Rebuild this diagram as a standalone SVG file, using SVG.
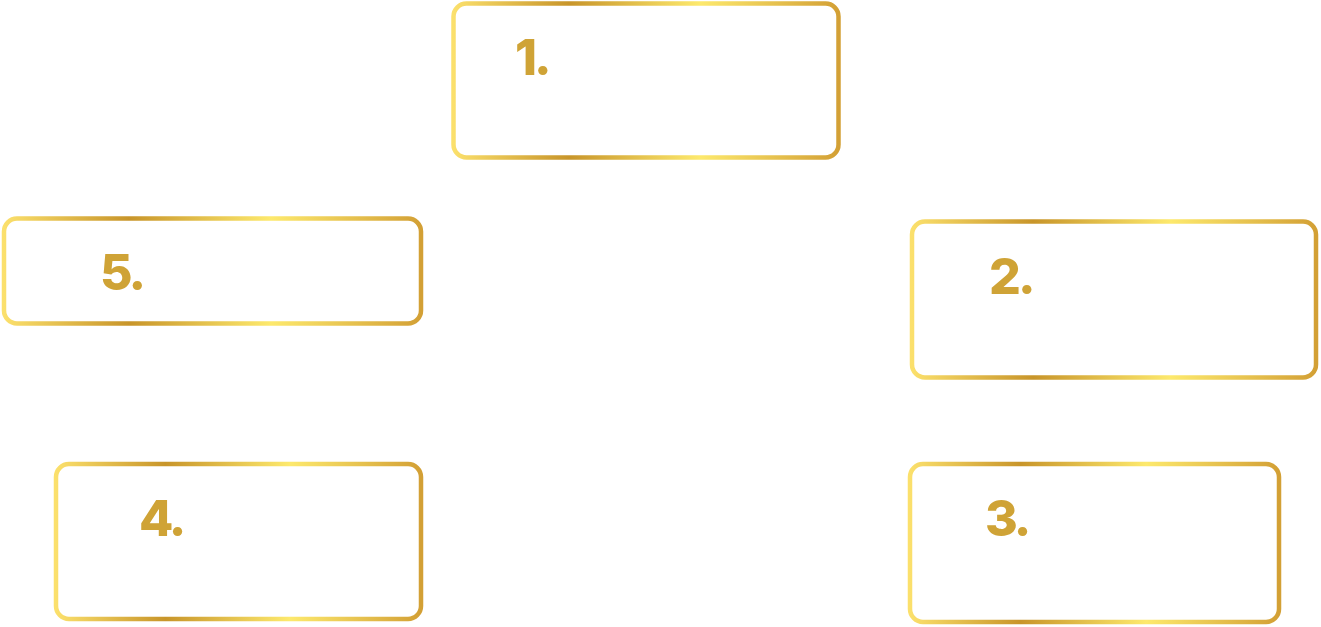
<svg xmlns="http://www.w3.org/2000/svg" width="1321" height="627" viewBox="0 0 1321 627">
<defs>
<linearGradient id="gold" x1="0" y1="0" x2="1" y2="0">
<stop offset="0" stop-color="#fbe06c"/>
<stop offset="0.3" stop-color="#c8952a"/>
<stop offset="0.64" stop-color="#fde96d"/>
<stop offset="1" stop-color="#d3a035"/>
</linearGradient>
<style>
.box{fill:#ffffff;stroke:url(#gold);stroke-width:4.5}
.num{font-family:Inter,"Liberation Sans",sans-serif;font-weight:800;font-size:50px;letter-spacing:-3px;fill:#cfa336}
</style>
</defs>
<rect width="1321" height="627" fill="#ffffff"/>
<g id="connectors"></g>
<g id="node1"><rect class="box" x="453.5" y="3.5" width="385" height="154" rx="13"/><text class="num" x="515" y="75">1.</text></g>
<g id="node2"><rect class="box" x="912" y="221.5" width="404" height="156" rx="13"/><text class="num" x="989" y="294">2.</text></g>
<g id="node3"><rect class="box" x="910" y="464" width="369" height="158" rx="13"/><text class="num" x="985" y="536">3.</text></g>
<g id="node4"><rect class="box" x="56" y="464" width="365" height="155" rx="13"/><text class="num" x="139" y="536">4.</text></g>
<g id="node5"><rect class="box" x="4" y="218.5" width="417" height="105" rx="13"/><text class="num" x="100" y="290">5.</text></g>
</svg>
